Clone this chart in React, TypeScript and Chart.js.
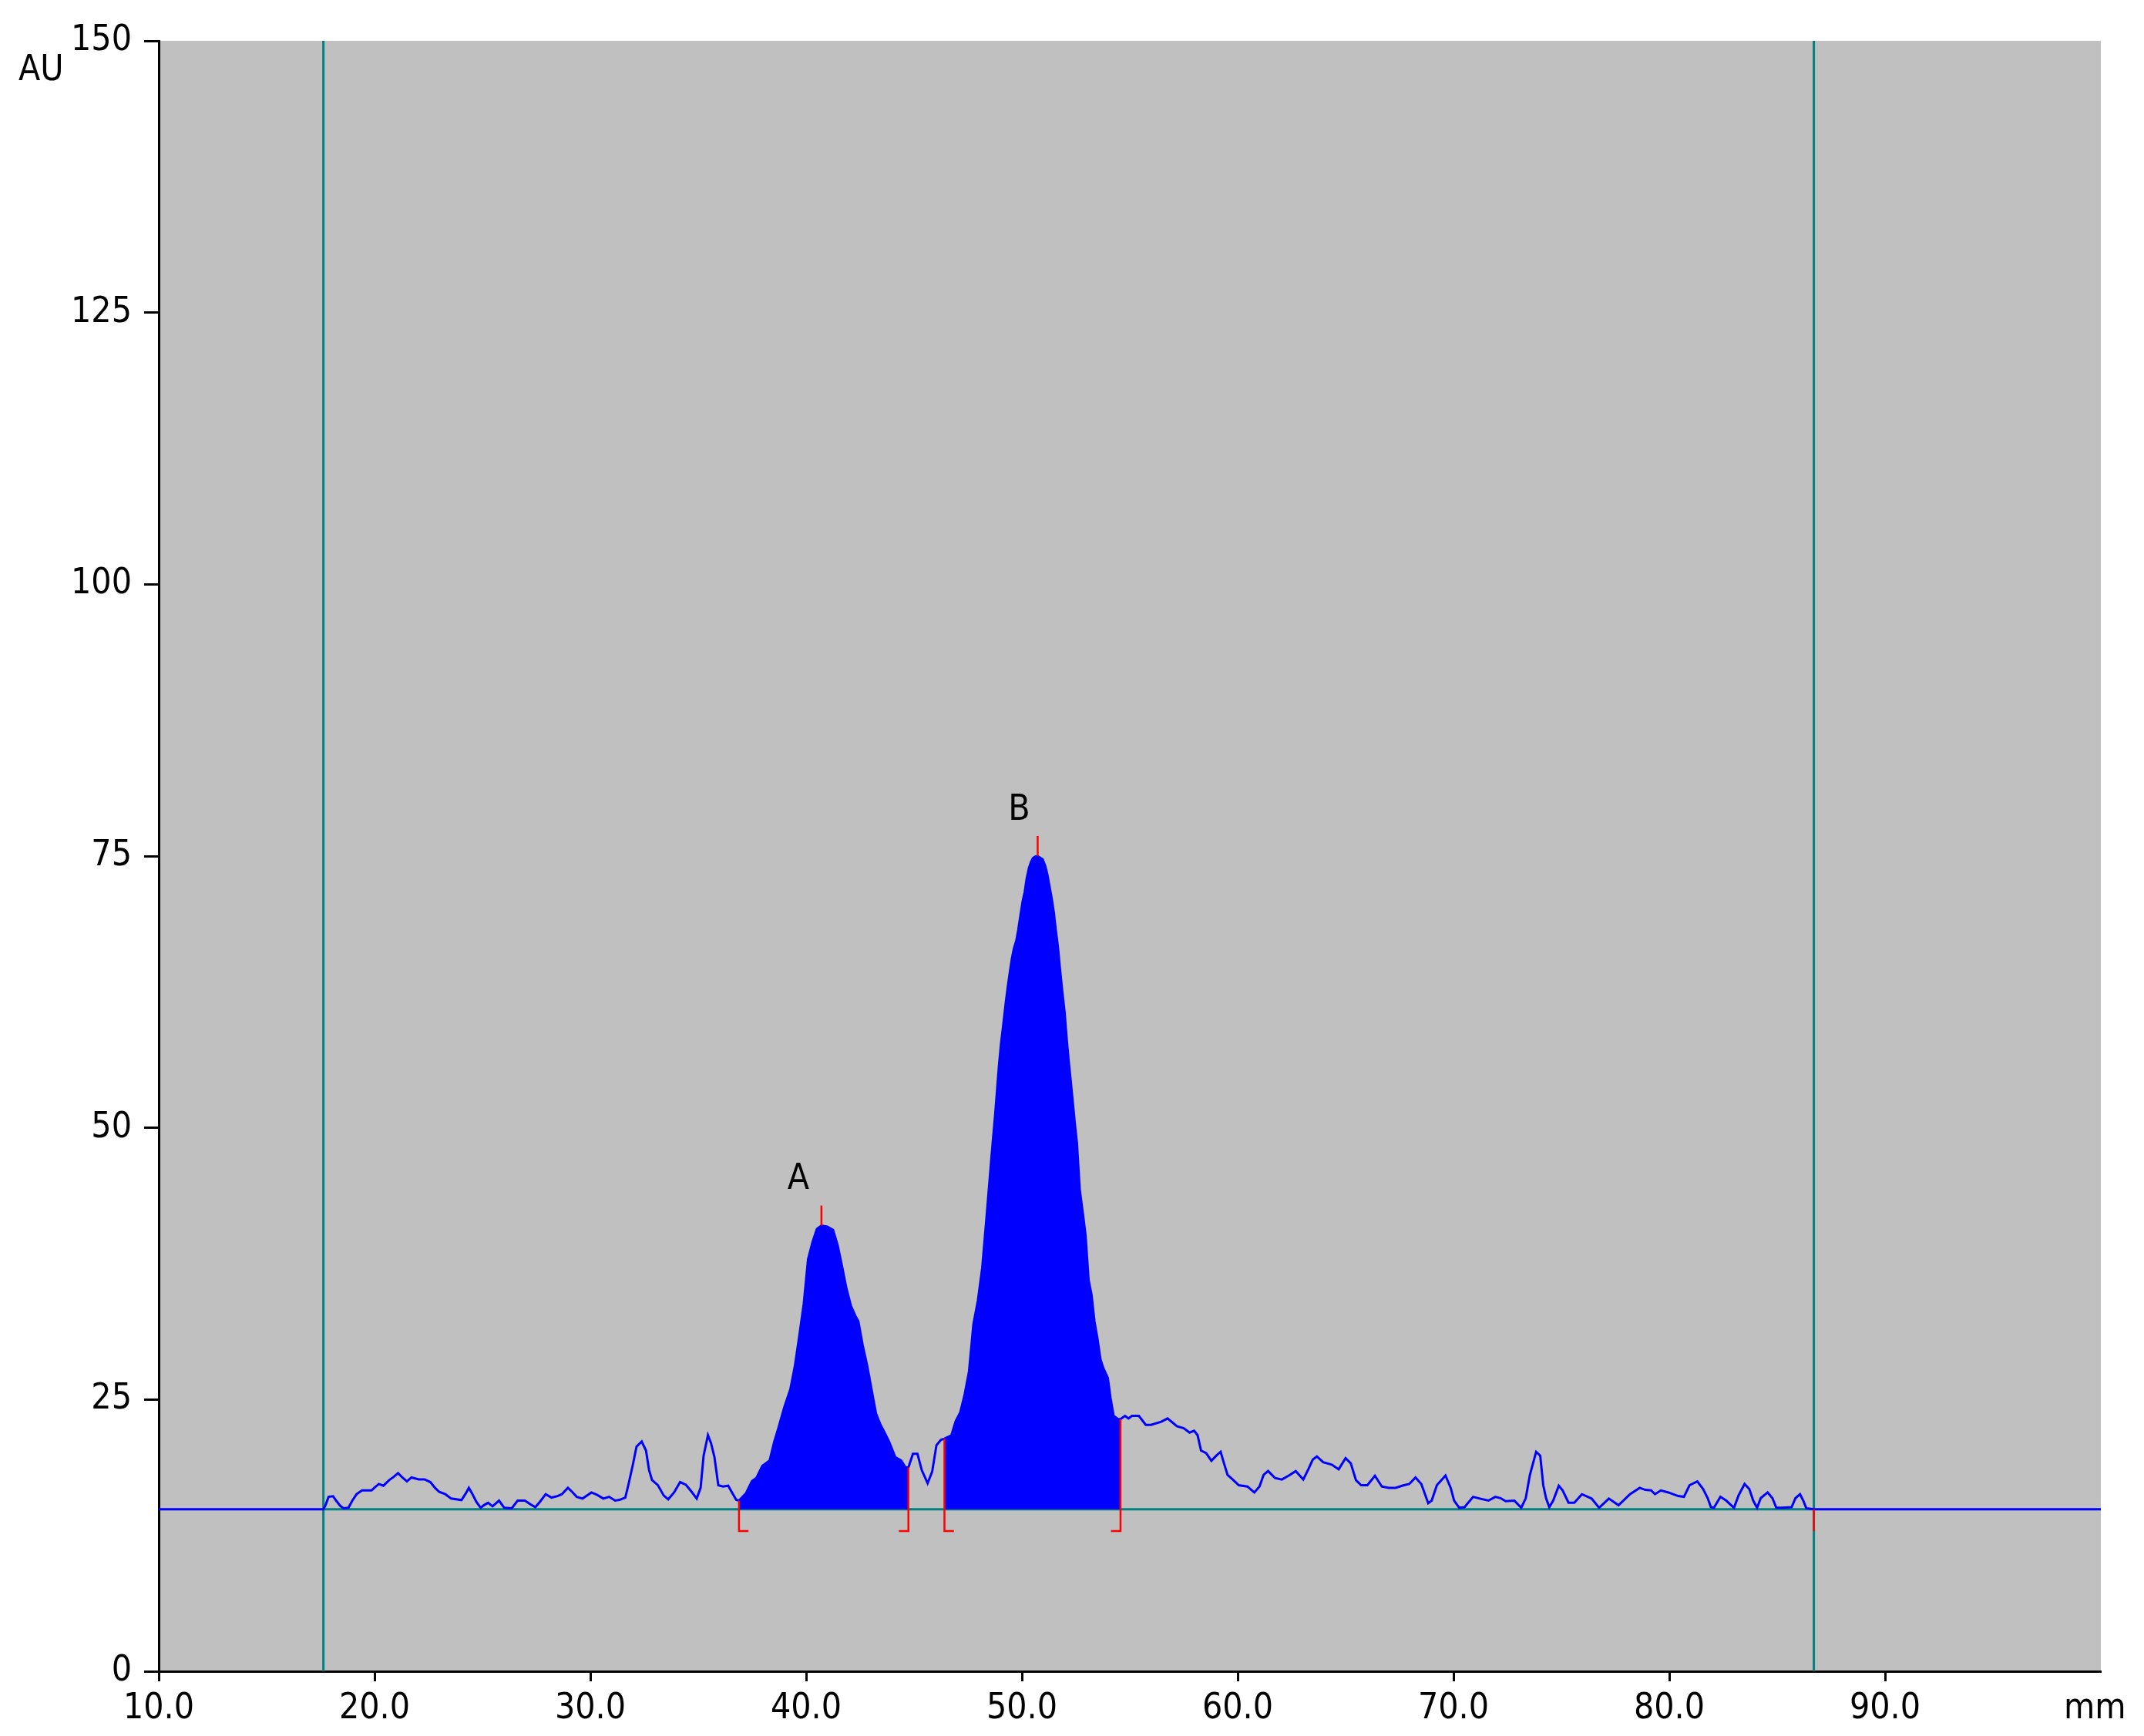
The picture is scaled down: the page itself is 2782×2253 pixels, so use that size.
import React, { useEffect, useRef } from 'react';
import { Chart, registerables } from 'chart.js';

Chart.register(...registerables);

// ---------- data ----------
const xTickValues = [10, 20, 30, 40, 50, 60, 70, 80, 90];
const yTickValues = [0, 25, 50, 75, 100, 125, 150];
const xUnit = 'mm';
const yUnit = 'AU';

const baselineAu = 14.9;
const trackStartMm = 17.63;
const trackEndMm = 86.7;

const peakNames = ['A', 'B'];
const peakStartMm = [36.89, 46.41];
const peakEndMm = [44.74, 54.57];
const peakApexMm = [40.71, 50.73];
const peakApexAu = [41.0, 75.0];
const peakLabelMm = [39.64, 49.87];
const peakLabelAu = [45.2, 79.2];

// scan trace, [mm, AU]
const scanBeforeA: [number, number][] = [
  [17.63, 14.9], [17.74, 15.34], [17.87, 16.05], [18.08, 16.1], [18.22, 15.7], [18.42, 15.2],
  [18.56, 15.0], [18.79, 15.04], [18.97, 15.7], [19.17, 16.3], [19.42, 16.64], [19.86, 16.64],
  [20.0, 16.9], [20.2, 17.23], [20.41, 17.07], [20.68, 17.59], [20.88, 17.87], [21.09, 18.23],
  [21.29, 17.83], [21.5, 17.47], [21.71, 17.83], [22.05, 17.66], [22.32, 17.66], [22.59, 17.4],
  [22.8, 16.88], [23.0, 16.5], [23.28, 16.29], [23.55, 15.89], [24.03, 15.75], [24.24, 16.4],
  [24.37, 16.88], [24.51, 16.4], [24.72, 15.58], [24.92, 15.04], [25.06, 15.27], [25.26, 15.5],
  [25.47, 15.18], [25.63, 15.46], [25.77, 15.7], [26.01, 15.04], [26.36, 15.0], [26.63, 15.7],
  [26.97, 15.7], [27.18, 15.42], [27.45, 15.1], [27.66, 15.58], [27.93, 16.29], [28.2, 15.98],
  [28.48, 16.12], [28.68, 16.29], [28.96, 16.88], [29.16, 16.5], [29.37, 16.05], [29.64, 15.89],
  [30.05, 16.45], [30.32, 16.22], [30.6, 15.89], [30.87, 16.05], [31.15, 15.7], [31.35, 15.77],
  [31.62, 15.98], [31.76, 17.12], [31.97, 19.0], [32.14, 20.66], [32.38, 21.14], [32.58, 20.31],
  [32.72, 18.53], [32.86, 17.59], [33.13, 17.12], [33.4, 16.17], [33.61, 15.82], [33.88, 16.45],
  [34.16, 17.4], [34.43, 17.16], [34.7, 16.5], [34.93, 15.89], [35.11, 16.88], [35.25, 19.84],
  [35.45, 21.73], [35.59, 21.0], [35.75, 19.72], [35.93, 17.12], [36.14, 17.0], [36.39, 17.07],
  [36.55, 16.5], [36.76, 15.77],
];

const scanPeakA: [number, number][] = [
  [36.89, 15.7], [37.22, 16.4], [37.49, 17.5], [37.7, 17.8], [37.97, 18.9], [38.31, 19.4],
  [38.52, 21.1], [38.72, 22.4], [38.99, 24.3], [39.27, 25.95], [39.48, 28.1], [39.68, 30.8],
  [39.89, 33.8], [40.09, 37.9], [40.3, 39.5], [40.5, 40.7], [40.71, 41.0], [40.98, 40.9],
  [41.25, 40.6], [41.46, 39.2], [41.66, 37.3], [41.87, 35.2], [42.08, 33.6], [42.28, 32.7],
  [42.42, 32.2], [42.62, 30.0], [42.83, 28.1], [43.03, 25.95], [43.24, 23.7], [43.44, 22.7],
  [43.65, 21.9], [43.85, 21.1], [44.13, 19.7], [44.4, 19.4], [44.61, 18.75], [44.74, 18.75],
];

const scanBetween: [number, number][] = [
  [44.95, 20.0], [45.16, 20.0], [45.36, 18.5], [45.63, 17.3], [45.84, 18.35], [46.04, 20.8],
  [46.25, 21.3],
];

const scanPeakB: [number, number][] = [
  [46.41, 21.4], [46.73, 21.7], [46.93, 23.0], [47.14, 23.8], [47.34, 25.4], [47.55, 27.6],
  [47.75, 31.9], [47.96, 34.1], [48.16, 37.1], [48.37, 42.0], [48.57, 46.85], [48.64, 48.5],
  [48.76, 51.2], [48.85, 53.5], [48.94, 55.8], [49.03, 57.7], [49.14, 59.55], [49.24, 61.3],
  [49.34, 62.9], [49.44, 64.3], [49.53, 65.5], [49.63, 66.5], [49.74, 67.2], [49.83, 68.2],
  [49.93, 69.5], [50.03, 70.8], [50.13, 71.7], [50.22, 72.9], [50.32, 73.86], [50.42, 74.45],
  [50.51, 74.8], [50.62, 74.95], [50.73, 75.0], [50.96, 74.7], [51.08, 74.1], [51.18, 73.3],
  [51.27, 72.3], [51.38, 71.1], [51.48, 69.8], [51.57, 68.2], [51.67, 66.6], [51.76, 64.7],
  [51.86, 62.75], [51.98, 60.6], [52.07, 58.3], [52.17, 56.1], [52.26, 54.35], [52.36, 52.3],
  [52.45, 50.45], [52.55, 48.6], [52.68, 44.3], [52.82, 42.2], [52.95, 40.1], [53.09, 36.0],
  [53.23, 34.6], [53.36, 32.2], [53.5, 30.6], [53.64, 28.7], [53.77, 27.9], [53.98, 27.0],
  [54.11, 25.1], [54.25, 23.5], [54.46, 23.2], [54.57, 23.2],
];

const scanAfterB: [number, number][] = [
  [54.78, 23.5], [54.94, 23.26], [55.1, 23.5], [55.42, 23.5], [55.74, 22.67], [55.98, 22.67],
  [56.46, 22.96], [56.75, 23.26], [57.18, 22.55], [57.5, 22.36], [57.77, 21.96], [57.98, 22.13],
  [58.14, 21.73], [58.3, 20.31], [58.54, 20.07], [58.78, 19.36], [59.01, 19.84], [59.21, 20.19],
  [59.33, 19.36], [59.53, 18.06], [59.73, 17.71], [60.05, 17.12], [60.45, 17.0], [60.77, 16.45],
  [61.01, 17.0], [61.2, 18.06], [61.41, 18.42], [61.73, 17.78], [62.05, 17.64], [62.37, 18.01],
  [62.69, 18.42], [63.04, 17.64], [63.29, 18.65], [63.48, 19.48], [63.67, 19.76], [63.96, 19.24],
  [64.36, 19.01], [64.68, 18.58], [65.0, 19.6], [65.24, 19.13], [65.48, 17.59], [65.72, 17.12],
  [66.01, 17.12], [66.36, 17.99], [66.68, 17.0], [67.0, 16.88], [67.31, 16.88], [67.71, 17.12],
  [67.95, 17.23], [68.24, 17.83], [68.51, 17.23], [68.83, 15.46], [68.99, 15.7], [69.23, 17.12],
  [69.63, 18.01], [69.87, 16.88], [70.03, 15.7], [70.27, 15.04], [70.51, 15.1], [70.91, 16.05],
  [71.22, 15.89], [71.62, 15.7], [71.94, 16.05], [72.18, 15.93], [72.42, 15.65], [72.82, 15.7],
  [73.14, 15.04], [73.35, 15.93], [73.54, 18.06], [73.83, 20.19], [74.02, 19.84], [74.16, 17.12],
  [74.29, 15.93], [74.44, 15.1], [74.62, 15.7], [74.88, 17.07], [75.06, 16.64], [75.33, 15.51],
  [75.6, 15.51], [75.95, 16.29], [76.4, 15.89], [76.75, 15.04], [77.2, 15.89], [77.65, 15.27],
  [78.18, 16.29], [78.63, 16.88], [78.89, 16.69], [79.16, 16.64], [79.34, 16.29], [79.61, 16.64],
  [79.96, 16.45], [80.41, 16.12], [80.68, 16.05], [80.94, 17.12], [81.3, 17.47], [81.57, 16.76],
  [81.78, 15.93], [81.93, 15.1], [82.07, 15.04], [82.37, 16.05], [82.64, 15.7], [83.0, 15.04],
  [83.21, 16.17], [83.49, 17.23], [83.71, 16.76], [83.89, 15.7], [84.07, 15.04], [84.24, 15.93],
  [84.56, 16.45], [84.78, 15.93], [84.96, 15.04], [85.22, 15.04], [85.67, 15.1], [85.85, 15.93],
  [86.06, 16.29], [86.21, 15.7], [86.35, 15.0], [86.7, 14.9],
];

// ---------- helpers ----------
const X_MIN = 10;
const X_MAX = 100;
const Y_MIN = 0;
const Y_MAX = 150;
const FONT = "'DejaVu Sans Condensed', 'DejaVu Sans', sans-serif";
const FONT_SIZE = 46;
const BLUE = '#0000FF';
const TEAL = '#008080';
const RED = '#FF0000';
const BRACKET_FOOT_AU = 12.9;
const BRACKET_FOOT_MM = 0.44;
const APEX_TICK_AU = 1.85;

const scan = [...scanBeforeA, ...scanPeakA, ...scanBetween, ...scanPeakB, ...scanAfterB];

function valueAt(mm: number): number {
  for (let i = 0; i < scan.length - 1; i++) {
    const [x0, y0] = scan[i];
    const [x1, y1] = scan[i + 1];
    if (mm >= x0 && mm <= x1) return y0 + ((y1 - y0) * (mm - x0)) / (x1 - x0 || 1);
  }
  return baselineAu;
}

const pts = (arr: [number, number][]) => arr.map(([x, y]) => ({ x, y }));

const decorPlugin = {
  id: 'decor',
  beforeDraw(chart: any) {
    const { ctx, chartArea: a } = chart;
    ctx.save();
    ctx.fillStyle = '#C0C0C0';
    ctx.fillRect(a.left, a.top, a.right - a.left, a.bottom - a.top);
    ctx.restore();
  },
  afterDraw(chart: any) {
    const { ctx, scales } = chart;
    const xs = scales.x;
    const ys = scales.y;
    ctx.save();
    ctx.fillStyle = '#000';
    ctx.font = `${FONT_SIZE}px ${FONT}`;
    ctx.textAlign = 'center';
    ctx.textBaseline = 'middle';
    peakNames.forEach((n, i) => {
      ctx.fillText(n, xs.getPixelForValue(peakLabelMm[i]), ys.getPixelForValue(peakLabelAu[i]));
    });
    ctx.textAlign = 'left';
    ctx.textBaseline = 'alphabetic';
    ctx.fillText(yUnit, 24, 104);
    ctx.fillText(xUnit, 2678, 2230);
    ctx.restore();
  },
};

export default function App() {
  const ref = useRef<HTMLCanvasElement | null>(null);

  useEffect(() => {
    if (!ref.current) return;

    const lineDs = (label: string, data: { x: number; y: number }[], color: string, width: number) => ({
      label,
      data,
      borderColor: color,
      backgroundColor: color,
      borderWidth: width,
      pointRadius: 0,
      tension: 0,
      fill: false,
    });

    const redSets: any[] = [];
    peakNames.forEach((n, i) => {
      const s = peakStartMm[i];
      const e = peakEndMm[i];
      redSets.push(
        lineDs(`${n} start`, [
          { x: s, y: valueAt(s) },
          { x: s, y: BRACKET_FOOT_AU },
          { x: s + BRACKET_FOOT_MM, y: BRACKET_FOOT_AU },
        ], RED, 2.5),
      );
      redSets.push(
        lineDs(`${n} end`, [
          { x: e, y: valueAt(e) },
          { x: e, y: BRACKET_FOOT_AU },
          { x: e - BRACKET_FOOT_MM, y: BRACKET_FOOT_AU },
        ], RED, 2.5),
      );
      redSets.push(
        lineDs(`${n} apex`, [
          { x: peakApexMm[i], y: peakApexAu[i] },
          { x: peakApexMm[i], y: peakApexAu[i] + APEX_TICK_AU },
        ], RED, 2.5),
      );
    });
    redSets.push(
      lineDs('track end', [
        { x: trackEndMm, y: baselineAu },
        { x: trackEndMm, y: BRACKET_FOOT_AU },
      ], RED, 2.5),
    );

    const fillSets = peakNames.map((n, i) => ({
      label: `${n} area`,
      data: pts(scan.filter(([x]) => x >= peakStartMm[i] && x <= peakEndMm[i])),
      borderColor: BLUE,
      backgroundColor: BLUE,
      borderWidth: 1,
      pointRadius: 0,
      tension: 0,
      fill: { value: baselineAu },
    }));

    const fullTrace = [
      { x: X_MIN, y: baselineAu },
      ...pts(scan),
      { x: X_MAX, y: baselineAu },
    ];

    const chart = new Chart(ref.current, {
      type: 'line',
      data: {
        datasets: [
          ...redSets,
          lineDs('scan', fullTrace, BLUE, 3),
          ...fillSets,
          lineDs('baseline', [
            { x: trackStartMm, y: baselineAu },
            { x: trackEndMm, y: baselineAu },
          ], TEAL, 3),
          lineDs('track start line', [
            { x: trackStartMm, y: Y_MIN },
            { x: trackStartMm, y: Y_MAX },
          ], TEAL, 3),
          lineDs('track end line', [
            { x: trackEndMm, y: Y_MIN },
            { x: trackEndMm, y: Y_MAX },
          ], TEAL, 3),
        ] as any,
      },
      options: {
        animation: false,
        responsive: false,
        devicePixelRatio: 1,
        layout: { padding: { left: 0, top: 53, right: 56, bottom: 0 } },
        plugins: {
          legend: { display: false },
          tooltip: { enabled: false },
          title: { display: false },
        },
        scales: {
          x: {
            type: 'linear',
            min: X_MIN,
            max: X_MAX,
            afterFit: (s: any) => {
              s.height = 84;
            },
            afterBuildTicks: (s: any) => {
              s.ticks = [...xTickValues, X_MAX].map((v) => ({ value: v }));
            },
            border: { display: true, color: '#000', width: 3 },
            grid: {
              display: true,
              drawOnChartArea: false,
              drawTicks: true,
              tickLength: 13,
              tickWidth: 3,
              tickColor: (c: any) => (c.tick && c.tick.value === X_MAX ? 'rgba(0,0,0,0)' : '#000'),
            },
            ticks: {
              color: '#000',
              padding: 8,
              maxRotation: 0,
              autoSkip: false,
              font: { family: FONT, size: FONT_SIZE },
              callback: (v: any) => (v === X_MAX ? '' : Number(v).toFixed(1)),
            },
          },
          y: {
            type: 'linear',
            min: Y_MIN,
            max: Y_MAX,
            afterFit: (s: any) => {
              s.width = 206;
            },
            afterBuildTicks: (s: any) => {
              s.ticks = yTickValues.map((v) => ({ value: v }));
            },
            border: { display: true, color: '#000', width: 3 },
            grid: {
              display: true,
              drawOnChartArea: false,
              drawTicks: true,
              tickLength: 19,
              tickWidth: 3,
              color: '#000',
            },
            ticks: {
              color: '#000',
              padding: 16,
              autoSkip: false,
              font: { family: FONT, size: FONT_SIZE },
              callback: (v: any) => String(v),
            },
          },
        },
      },
      plugins: [decorPlugin],
    });

    return () => chart.destroy();
  }, []);

  return (
    <div style={{ position: 'fixed', left: 0, top: 0, width: 2782, height: 2253, background: '#fff' }}>
      <canvas ref={ref} width={2782} height={2253} style={{ display: 'block', width: 2782, height: 2253 }} />
    </div>
  );
}
